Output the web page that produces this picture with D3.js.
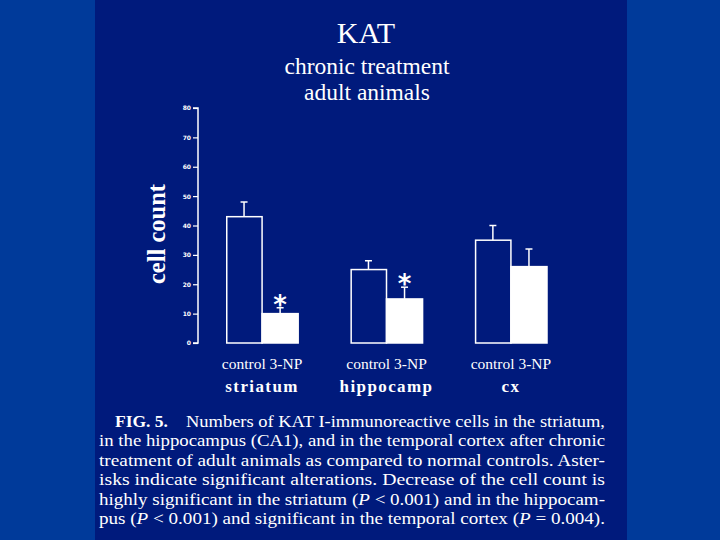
<!DOCTYPE html>
<html>
<head>
<meta charset="utf-8">
<script src="https://cdn.jsdelivr.net/npm/d3@7"></script>
<style>
  html, body { margin: 0; padding: 0; background: #003a9a; }
  svg { display: block; }
</style>
</head>
<body>
<div id="chart"></div>
<script>
// data
const regions = ["striatum", "hippocamp", "cx"];
const groups = ["control", "3-NP"];
const controlMeans = [43, 25, 35];
const controlErr = [5, 3, 5];
const npMeans = [10, 15, 26];
const npErr = [2, 4, 6];
const significant = [true, true, false];
const yTicks = [0, 10, 20, 30, 40, 50, 60, 70, 80];
const captionLines = [
  "Numbers of KAT I-immunoreactive cells in the striatum,",
  "in the hippocampus (CA1), and in the temporal cortex after chronic",
  "treatment of adult animals as compared to normal controls. Aster-",
  "isks indicate significant alterations. Decrease of the cell count is",
  "highly significant in the striatum (P < 0.001) and in the hippocam-",
  "pus (P < 0.001) and significant in the temporal cortex (P = 0.004)."
];

const W = 720, H = 540;
const panel = "#001a7c";
const serif = "'Liberation Serif', 'Times New Roman', serif";

const svg = d3.select("#chart").append("svg")
  .attr("width", W)
  .attr("height", H);

svg.append("rect").attr("width", W).attr("height", H).attr("fill", "#003a9a");
svg.append("rect").attr("x", 95).attr("y", 0).attr("width", 532).attr("height", H).attr("fill", panel);

// titles
svg.append("text").text("KAT")
  .attr("x", 366).attr("y", 43).attr("text-anchor", "middle")
  .attr("fill", "#fff").style("font-family", serif).style("font-size", "30px");
svg.append("text").text("chronic treatment")
  .attr("x", 367).attr("y", 74).attr("text-anchor", "middle")
  .attr("fill", "#fff").style("font-family", serif).style("font-size", "23.5px");
svg.append("text").text("adult animals")
  .attr("x", 367).attr("y", 100).attr("text-anchor", "middle")
  .attr("fill", "#fff").style("font-family", serif).style("font-size", "23.5px");

// scales
const y = d3.scaleLinear().domain([0, 80]).range([343, 108]);
const x0 = d3.scaleBand().domain(regions).range([226, 547]).paddingInner(0.42).paddingOuter(0);
const x1 = d3.scaleBand().domain(groups).range([0, x0.bandwidth()]);

// y axis
const yAxis = d3.axisLeft(y).tickValues(yTicks).tickSize(5).tickPadding(2);
const ag = svg.append("g").attr("transform", "translate(198,0)").call(yAxis);
ag.select(".domain").attr("stroke", "#fff").attr("stroke-width", 1.5).attr("d", "M-5,108H0V343H-5");
ag.selectAll(".tick line").attr("stroke", "#fff").attr("stroke-width", 1.2);
ag.selectAll(".tick text").attr("fill", "#fff")
  .style("font-family", "'DejaVu Sans', sans-serif").style("font-size", "6px").style("font-weight", "bold");

svg.append("text").text("cell count")
  .attr("transform", "translate(165,234) rotate(-90)")
  .attr("text-anchor", "middle").attr("fill", "#fff")
  .style("font-family", serif).style("font-size", "24.5px").style("font-weight", "bold");

// bars
const rows = regions.map((r, i) => ({
  region: r,
  values: [
    { g: "control", mean: controlMeans[i], err: controlErr[i], sig: false },
    { g: "3-NP", mean: npMeans[i], err: npErr[i], sig: significant[i] }
  ]
}));

const rg = svg.selectAll(".region").data(rows).enter().append("g")
  .attr("transform", d => `translate(${x0(d.region)},0)`);

const bar = rg.selectAll(".bar").data(d => d.values).enter().append("g");

bar.append("line")
  .attr("x1", d => x1(d.g) + x1.bandwidth() / 2)
  .attr("x2", d => x1(d.g) + x1.bandwidth() / 2)
  .attr("y1", d => y(d.mean))
  .attr("y2", d => y(d.mean + d.err))
  .attr("stroke", "#fff").attr("stroke-width", 1.5);
bar.append("line")
  .attr("x1", d => x1(d.g) + x1.bandwidth() / 2 - 3.5)
  .attr("x2", d => x1(d.g) + x1.bandwidth() / 2 + 3.5)
  .attr("y1", d => y(d.mean + d.err))
  .attr("y2", d => y(d.mean + d.err))
  .attr("stroke", "#fff").attr("stroke-width", 1.5);

bar.append("rect")
  .attr("x", d => x1(d.g) + (d.g === "control" ? 0.75 : 0))
  .attr("y", d => y(d.mean))
  .attr("width", d => x1.bandwidth() - (d.g === "control" ? 0.75 : 0))
  .attr("height", d => y(0) - y(d.mean))
  .attr("fill", d => d.g === "control" ? panel : "#fff")
  .attr("stroke", "#fff").attr("stroke-width", 1.5);

bar.filter(d => d.sig).append("text").text("*")
  .attr("x", d => x1(d.g) + x1.bandwidth() / 2)
  .attr("y", d => y(d.mean + d.err) + 6)
  .attr("text-anchor", "middle").attr("fill", "#fff")
  .style("font-family", "'DejaVu Sans', sans-serif").style("font-size", "26px").style("font-weight", "bold");

rg.append("text").text(groups.join(" "))
  .attr("x", x0.bandwidth() / 2).attr("y", 369)
  .attr("text-anchor", "middle").attr("fill", "#fff")
  .style("font-family", serif).style("font-size", "15.5px");
rg.append("text").text(d => d.region)
  .attr("x", x0.bandwidth() / 2).attr("y", 392)
  .attr("text-anchor", "middle").attr("fill", "#fff")
  .style("font-family", serif).style("font-size", "17px").style("font-weight", "bold")
  .style("letter-spacing", "1.4px");

// caption, justified lines, italic P
const cap = svg.append("g").style("font-family", serif).style("font-size", "16.5px").attr("fill", "#fff");
cap.append("text").text("FIG. 5.").attr("x", 115).attr("y", 427)
  .attr("textLength", 53).attr("lengthAdjust", "spacingAndGlyphs").style("font-weight", "bold");
captionLines.forEach((line, i) => {
  const x = i === 0 ? 186 : 99;
  const t = cap.append("text")
    .attr("x", x).attr("y", 427 + i * 19.4)
    .attr("textLength", 605 - x)
    .attr("lengthAdjust", "spacingAndGlyphs");
  line.split(/(\(P)/).forEach(part => {
    if (part === "(P") {
      t.append("tspan").text("(");
      t.append("tspan").text("P").style("font-style", "italic");
    } else if (part) {
      t.append("tspan").text(part);
    }
  });
});
</script>
</body>
</html>
